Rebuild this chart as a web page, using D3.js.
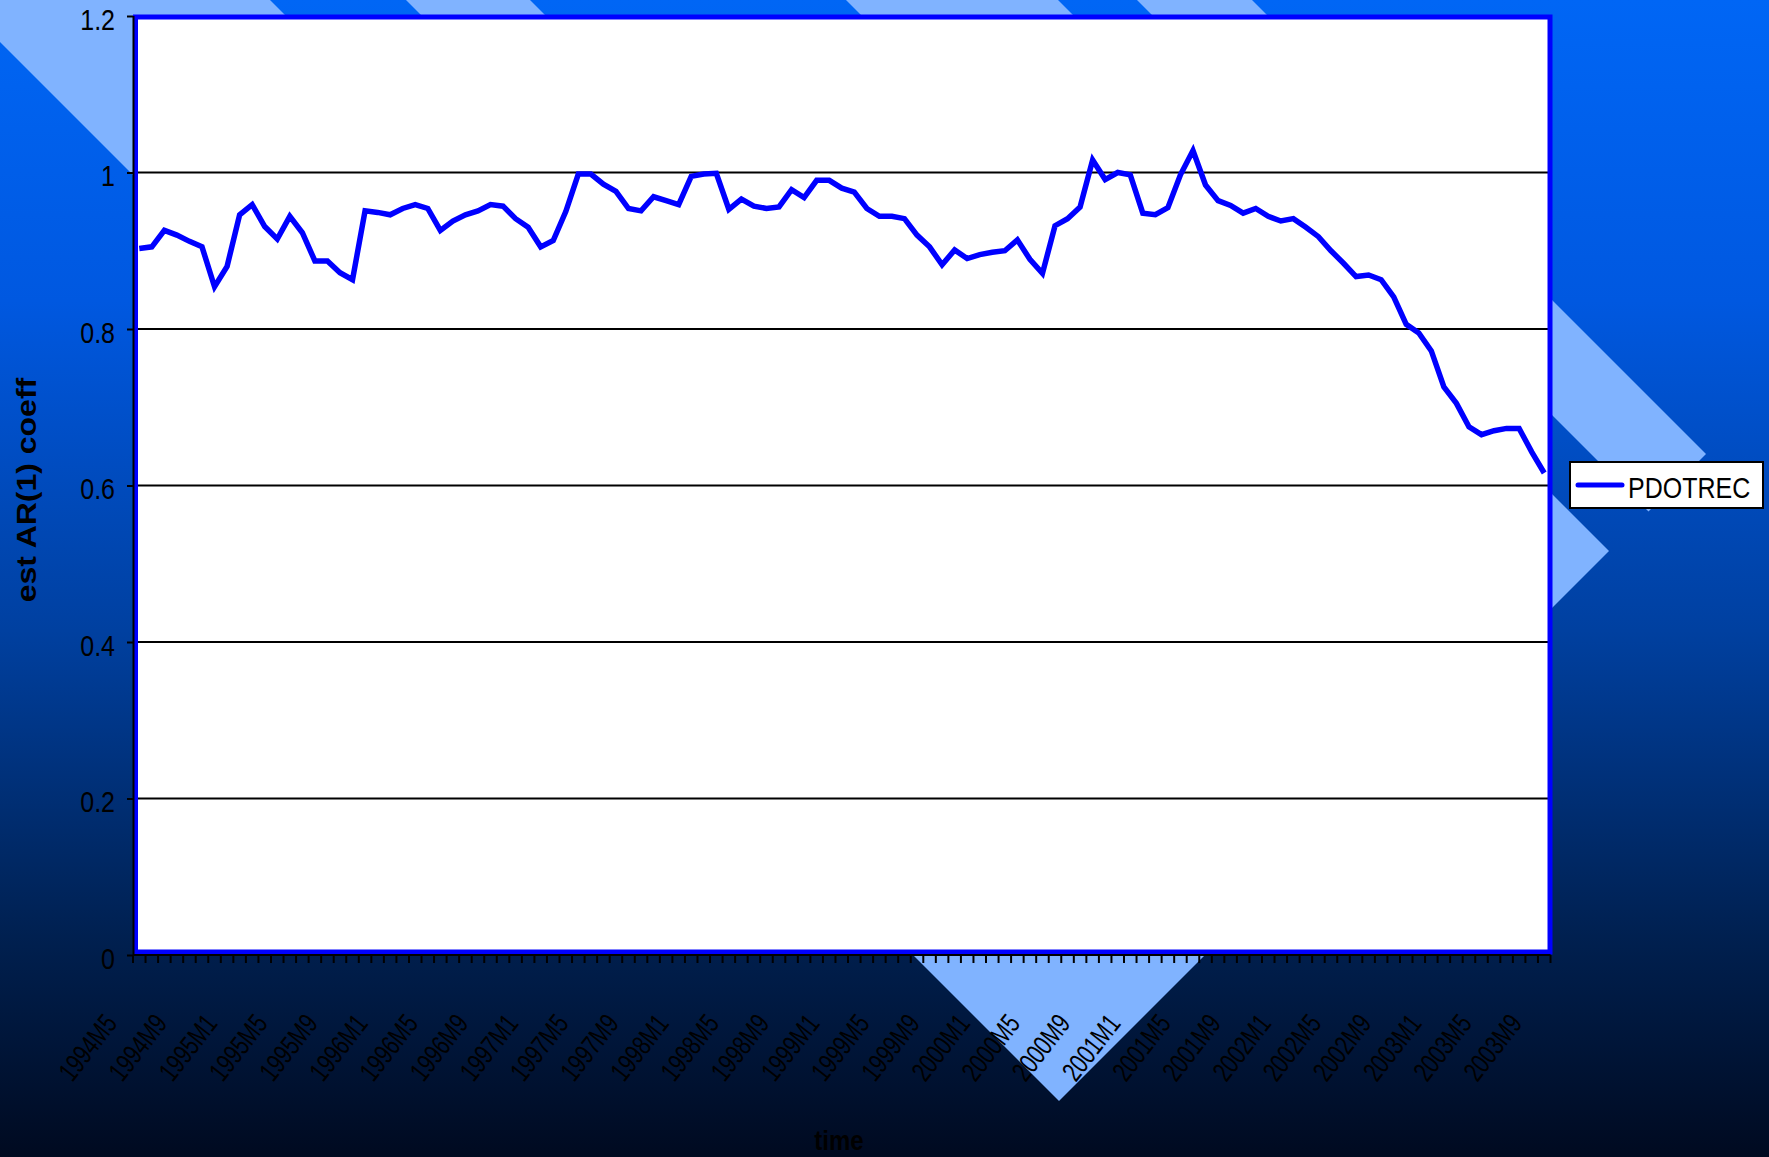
<!DOCTYPE html>
<html><head><meta charset="utf-8">
<script src="https://cdn.jsdelivr.net/npm/d3@7"></script>
<style>html,body{margin:0;padding:0;overflow:hidden;background:#000}</style>
</head><body>
<svg id="c" width="1769" height="1157"></svg>
<script>
const categories = [
 "1994M5","1994M6","1994M7","1994M8","1994M9","1994M10","1994M11","1994M12",
 "1995M1","1995M2","1995M3","1995M4","1995M5","1995M6","1995M7","1995M8","1995M9","1995M10","1995M11","1995M12",
 "1996M1","1996M2","1996M3","1996M4","1996M5","1996M6","1996M7","1996M8","1996M9","1996M10","1996M11","1996M12",
 "1997M1","1997M2","1997M3","1997M4","1997M5","1997M6","1997M7","1997M8","1997M9","1997M10","1997M11","1997M12",
 "1998M1","1998M2","1998M3","1998M4","1998M5","1998M6","1998M7","1998M8","1998M9","1998M10","1998M11","1998M12",
 "1999M1","1999M2","1999M3","1999M4","1999M5","1999M6","1999M7","1999M8","1999M9","1999M10","1999M11","1999M12",
 "2000M1","2000M2","2000M3","2000M4","2000M5","2000M6","2000M7","2000M8","2000M9","2000M10","2000M11","2000M12",
 "2001M1","2001M2","2001M3","2001M4","2001M5","2001M6","2001M7","2001M8","2001M9","2001M10","2001M11","2001M12",
 "2002M1","2002M2","2002M3","2002M4","2002M5","2002M6","2002M7","2002M8","2002M9","2002M10","2002M11","2002M12",
 "2003M1","2003M2","2003M3","2003M4","2003M5","2003M6","2003M7","2003M8","2003M9"
];
const seriesName = "PDOTREC";
const values = [
 0.903,0.905,0.926,0.920,0.912,0.905,0.854,0.880,
 0.946,0.959,0.931,0.915,0.944,0.923,0.887,0.887,0.872,0.863,0.951,0.949,
 0.946,0.954,0.959,0.954,0.926,0.938,0.946,0.951,0.959,0.957,0.941,0.930,
 0.905,0.913,0.950,0.998,0.998,0.985,0.976,0.954,0.951,0.969,0.964,0.959,
 0.995,0.998,0.999,0.953,0.966,0.957,0.954,0.956,0.978,0.968,0.990,0.990,
 0.980,0.975,0.954,0.944,0.944,0.941,0.920,0.905,0.882,0.901,0.890,0.895,
 0.898,0.900,0.914,0.889,0.871,0.932,0.941,0.956,1.016,0.991,1.000,0.997,
 0.948,0.946,0.955,0.997,1.028,0.984,0.964,0.958,0.948,0.954,0.944,0.938,
 0.941,0.930,0.918,0.900,0.884,0.867,0.869,0.863,0.841,0.806,0.795,0.772,
 0.726,0.705,0.675,0.665,0.670,0.673,0.673,0.643,0.616
];
const yTicks = [0, 0.2, 0.4, 0.6, 0.8, 1, 1.2];
const yTickLabels = ["0", "0.2", "0.4", "0.6", "0.8", "1", "1.2"];
const labelEvery = 4;
const yTitle = "est AR(1) coeff";
const xTitle = "time";

(function () {
const W = 1769, H = 1157;
const FONT = "'Liberation Sans', Arial, sans-serif";
const STRETCH = 1.163;
const svg = d3.select("#c");
const defs = svg.append("defs");

// background gradient
const grad = defs.append("linearGradient").attr("id","bg")
  .attr("x1",0).attr("y1",0).attr("x2",0).attr("y2",1);
[[0,"#0066F5"],[0.26,"#0058E0"],[0.545,"#0040A0"],[0.81,"#002050"],[1,"#000A20"]]
  .forEach(([o,c]) => grad.append("stop").attr("offset",o).attr("stop-color",c));
svg.append("rect").attr("width",W).attr("height",H).attr("fill","url(#bg)");

// decorative diagonal bands (template)
const bands = [[-42,270],[406,530],[846,1058],[1137,1252]];
const cut = 2160;
bands.forEach(([a,b]) => {
  const pts = [[a,0],[b,0],[(cut+b)/2,(cut-b)/2],[(cut+a)/2,(cut-a)/2]];
  svg.append("polygon").attr("points", pts.map(p=>p.join(",")).join(" "))
    .attr("fill","#80B3FF");
});

// scales
const pLeft = 133, pRight = 1550.5, pTop = 16, pBottom = 955;
const x = d3.scaleBand().domain(categories).range([pLeft, pRight]).paddingInner(0).paddingOuter(0);
const y = d3.scaleLinear().domain([0, 1.2]).range([pBottom, pTop]);

// plot area
svg.append("rect").attr("x",135.5).attr("y",17).attr("width",1550-135.5).attr("height",952-17)
  .attr("fill","#ffffff");

// gridlines
svg.append("g").selectAll("line").data(yTicks.filter(t => t > 0)).join("line")
  .attr("x1", pLeft).attr("x2", pRight).attr("y1", d => y(d)).attr("y2", d => y(d))
  .attr("stroke","#000").attr("stroke-width",2);

// series line
const line = d3.line().x((d,i) => x(categories[i]) + x.bandwidth()/2).y(d => y(d));
svg.append("path").datum(values).attr("d", line)
  .attr("fill","none").attr("stroke","#0000FF").attr("stroke-width",5.5)
  .attr("stroke-linejoin","miter").attr("stroke-miterlimit",3);

// plot border (blue)
svg.append("rect").attr("x",135.5).attr("y",17).attr("width",1550-135.5).attr("height",952-17)
  .attr("fill","none").attr("stroke","#0000FF").attr("stroke-width",5);

// y axis
const yAxis = d3.axisLeft(y).tickValues(yTicks).tickSize(6).tickFormat((d,i) => yTickLabels[i]);
const gy = svg.append("g").attr("transform", `translate(${pLeft},0)`).call(yAxis);
gy.select(".domain").attr("stroke","#000").attr("stroke-width",2)
  .attr("d", `M0.5,${pTop}V${pBottom}`);
gy.selectAll(".tick line").attr("stroke","#000").attr("stroke-width",2);
gy.selectAll(".tick text").remove();
gy.selectAll(".tick").append("text")
  .attr("transform", `translate(-18,13) scale(1,${STRETCH})`)
  .attr("text-anchor","end").attr("fill","#000")
  .style("font-family",FONT).style("font-size","25px")
  .text((d,i) => yTickLabels[i]);

// x axis line
svg.append("line").attr("x1",pLeft).attr("x2",pRight).attr("y1",pBottom).attr("y2",pBottom)
  .attr("stroke","#000").attr("stroke-width",2);
// x tick marks at category boundaries
const boundaries = categories.map(c => x(c)).concat([pRight]);
svg.append("g").selectAll("line").data(boundaries).join("line")
  .attr("x1", d => d).attr("x2", d => d).attr("y1", pBottom).attr("y2", pBottom + 8)
  .attr("stroke","#000").attr("stroke-width",2);
// x labels (condensed, rotated)
svg.append("g").selectAll("text")
  .data(categories.filter((c,i) => i % labelEvery === 0)).join("text")
  .attr("transform", d => `translate(${x(d) + x.bandwidth()/2 - 21},1024) rotate(-52) scale(0.74,1)`)
  .attr("text-anchor","end").attr("fill","#000")
  .style("font-family",FONT).style("font-size","28px")
  .text(d => d);

// axis titles
svg.append("text").attr("transform", `translate(839,1150) scale(1,${STRETCH})`)
  .attr("text-anchor","middle").attr("fill","#000")
  .style("font-family",FONT).style("font-size","24px").style("font-weight","bold")
  .text(xTitle);
svg.append("text").attr("transform", `translate(36,490) scale(1,${STRETCH}) rotate(-90)`)
  .attr("text-anchor","middle").attr("fill","#000")
  .style("font-family",FONT).style("font-size","27.5px").style("font-weight","bold")
  .text(yTitle);

// legend
const lg = svg.append("g");
lg.append("rect").attr("x",1570).attr("y",462).attr("width",193).attr("height",46)
  .attr("fill","#fff").attr("stroke","#000").attr("stroke-width",2);
lg.append("line").attr("x1",1578).attr("x2",1622).attr("y1",485).attr("y2",485)
  .attr("stroke","#0000FF").attr("stroke-width",5).attr("stroke-linecap","round");
lg.append("text").attr("transform", `translate(1628,498) scale(1,${STRETCH})`)
  .attr("fill","#000").style("font-family",FONT).style("font-size","25px")
  .text(seriesName);
})();
</script>
</body></html>
